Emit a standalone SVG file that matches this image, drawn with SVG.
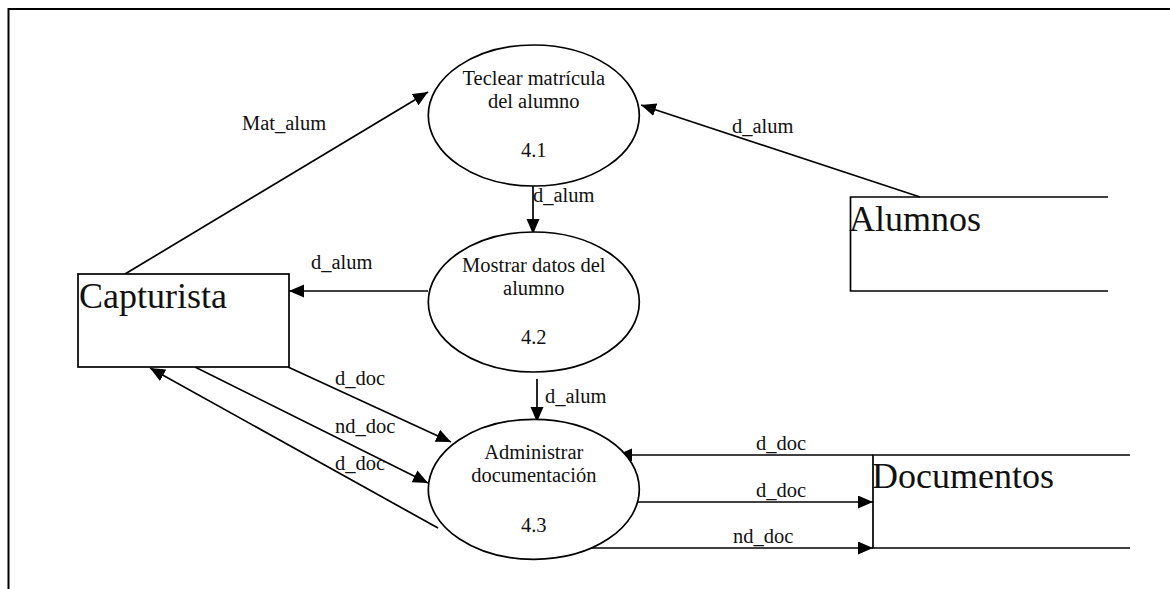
<svg xmlns="http://www.w3.org/2000/svg" width="1170" height="589" viewBox="0 0 1170 589">
  <style>
    .frame { fill: none; stroke: #000; stroke-width: 2; }
    .proc { fill: #fff; stroke: #000; stroke-width: 1.7; }
    .ent { fill: #fff; stroke: #000; stroke-width: 1.7; }
    .store { fill: none; stroke: #000; stroke-width: 1.7; }
    .flow { fill: none; stroke: #000; stroke-width: 1.7; }
    .arrow { marker-end: url(#head); }
    text { font-family: "Liberation Serif", "Times New Roman", serif; fill: #111; }
    .lbl { font-size: 20.5px; }
    .ptxt { font-size: 20.5px; text-anchor: middle; }
    .big { font-size: 36px; }
  </style>
  <defs>
    <marker id="head" markerUnits="userSpaceOnUse" markerWidth="16" markerHeight="14" refX="15" refY="6.5" orient="auto">
      <path d="M0,0 L15,6.5 L0,13 z" fill="#000"/>
    </marker>
  </defs>

  <rect width="1170" height="589" fill="#fff"/>

  <!-- page border (top and left edges) -->
  <path class="frame" d="M1170,9 H8.5 V589"/>

  <!-- data flows -->
  <g id="connectors">
    <!-- Capturista -> 4.1 -->
    <line class="flow arrow" x1="125" y1="274" x2="428" y2="92"/>
    <text class="lbl" x="242" y="130">Mat_alum</text>

    <!-- Alumnos -> 4.1 -->
    <line class="flow arrow" x1="920" y1="197" x2="641" y2="105"/>
    <text class="lbl" x="732" y="133">d_alum</text>

    <!-- 4.1 -> 4.2 -->
    <line class="flow arrow" x1="533" y1="186" x2="533" y2="234"/>
    <text class="lbl" x="533" y="202">d_alum</text>

    <!-- 4.2 -> Capturista -->
    <line class="flow arrow" x1="428" y1="291" x2="289" y2="291"/>
    <text class="lbl" x="311" y="269">d_alum</text>

    <!-- 4.2 -> 4.3 -->
    <line class="flow arrow" x1="537" y1="379" x2="537" y2="422"/>
    <text class="lbl" x="545" y="403">d_alum</text>

    <!-- Capturista -> 4.3 -->
    <line class="flow arrow" x1="288" y1="367" x2="451" y2="442"/>
    <text class="lbl" x="335" y="385">d_doc</text>

    <line class="flow arrow" x1="195" y1="367" x2="428" y2="483"/>
    <text class="lbl" x="335" y="433">nd_doc</text>

    <!-- 4.3 -> Capturista -->
    <line class="flow arrow" x1="438" y1="528" x2="150" y2="368"/>
    <text class="lbl" x="335" y="470">d_doc</text>

    <!-- Documentos <-> 4.3 -->
    <line class="flow arrow" x1="873" y1="455" x2="617" y2="455"/>
    <text class="lbl" x="756" y="450">d_doc</text>

    <line class="flow arrow" x1="638" y1="502" x2="873" y2="502"/>
    <text class="lbl" x="756" y="497">d_doc</text>

    <line class="flow arrow" x1="590" y1="548" x2="873" y2="548"/>
    <text class="lbl" x="733" y="543">nd_doc</text>
  </g>

  <!-- external entity -->
  <g id="capturista">
    <rect class="ent" x="78" y="274" width="211" height="93"/>
    <text class="big" x="79" y="308">Capturista</text>
  </g>

  <!-- data stores (open on the right) -->
  <g id="alumnos">
    <path class="store" d="M1108,197 H850.5 V291 H1108"/>
    <text class="big" x="849" y="231">Alumnos</text>
  </g>

  <g id="documentos">
    <path class="store" d="M1130,455 H873 V548 H1130"/>
    <text class="big" x="872" y="488">Documentos</text>
  </g>

  <!-- processes -->
  <g id="p41">
    <ellipse class="proc" cx="533.8" cy="115.5" rx="105.5" ry="70.5"/>
    <text class="ptxt" x="533.8" y="85">Teclear matrícula</text>
    <text class="ptxt" x="533.8" y="108">del alumno</text>
    <text class="ptxt" x="533.8" y="157">4.1</text>
  </g>

  <g id="p42">
    <ellipse class="proc" cx="533.8" cy="302" rx="105.5" ry="70"/>
    <text class="ptxt" x="533.8" y="272">Mostrar datos del</text>
    <text class="ptxt" x="533.8" y="295">alumno</text>
    <text class="ptxt" x="533.8" y="344">4.2</text>
  </g>

  <g id="p43">
    <ellipse class="proc" cx="533.8" cy="489.3" rx="105.5" ry="70"/>
    <text class="ptxt" x="533.8" y="459">Administrar</text>
    <text class="ptxt" x="533.8" y="482">documentación</text>
    <text class="ptxt" x="533.8" y="532">4.3</text>
  </g>
</svg>
